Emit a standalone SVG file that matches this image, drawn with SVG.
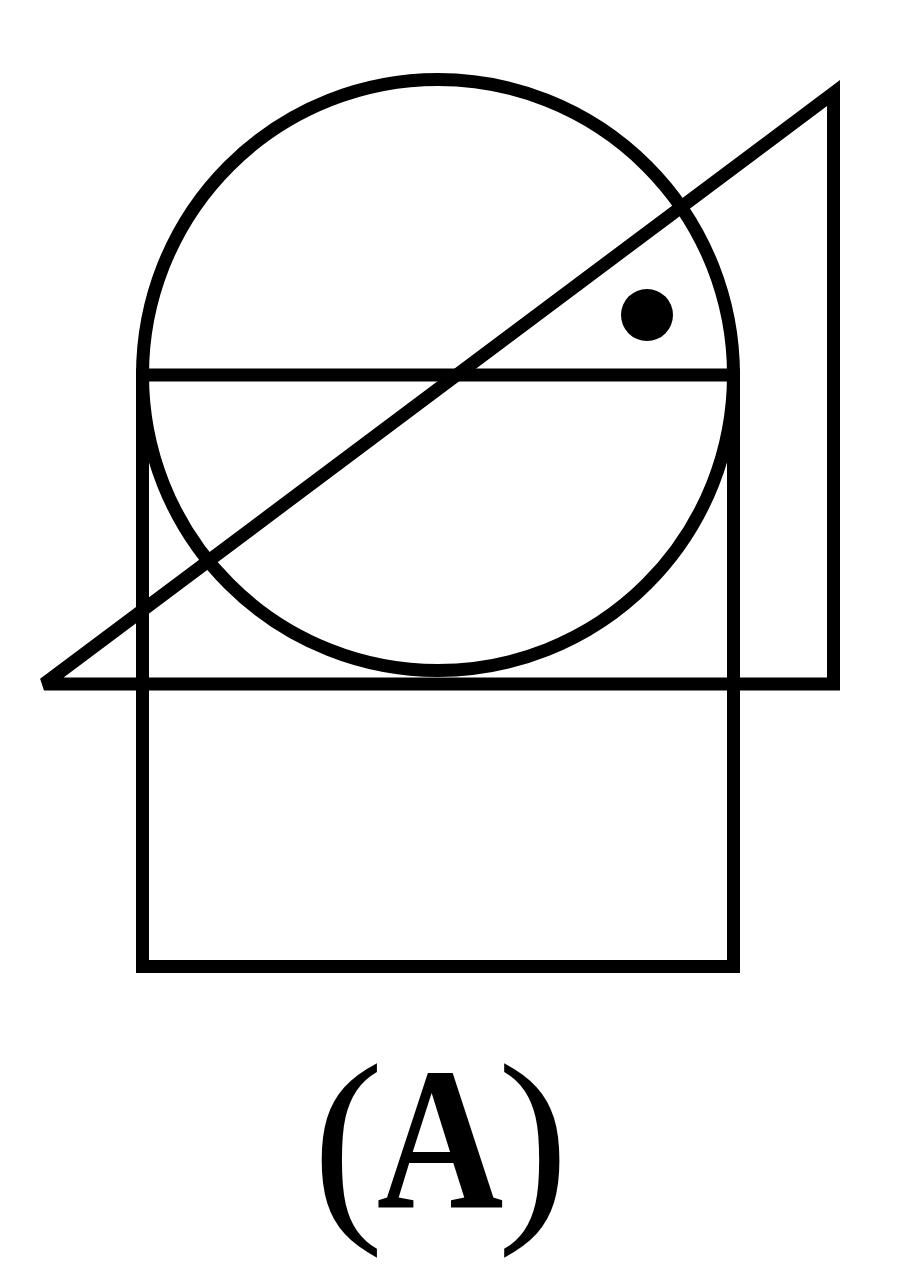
<svg xmlns="http://www.w3.org/2000/svg" width="900" height="1282" viewBox="0 0 900 1282">
<style>
.s{fill:none;stroke:#000;stroke-width:13}
.t{font-family:"Liberation Serif","Times New Roman",serif;fill:#000}
</style>
<rect width="900" height="1282" fill="#fff"/>
<g id="figure">
<rect id="rectangle" class="s" x="142.5" y="375" width="591" height="591.5"/>
<circle id="circle" class="s" cx="438" cy="375" r="295.5"/>
<path id="triangle" class="s" d="M44 684 L833.5 93 L833.5 684 Z" stroke-linejoin="miter" stroke-miterlimit="3"/>
<circle id="dot" cx="647" cy="315" r="26" fill="#000"/>
</g>
<g id="label">
<text class="t" x="348" y="1212" font-size="215" text-anchor="middle">(</text>
<text class="t" x="0" y="0" font-size="204" font-weight="bold" text-anchor="middle" transform="translate(440 1207) scale(0.86 1)">A</text>
<text class="t" x="533" y="1212" font-size="215" text-anchor="middle">)</text>
</g>
</svg>
